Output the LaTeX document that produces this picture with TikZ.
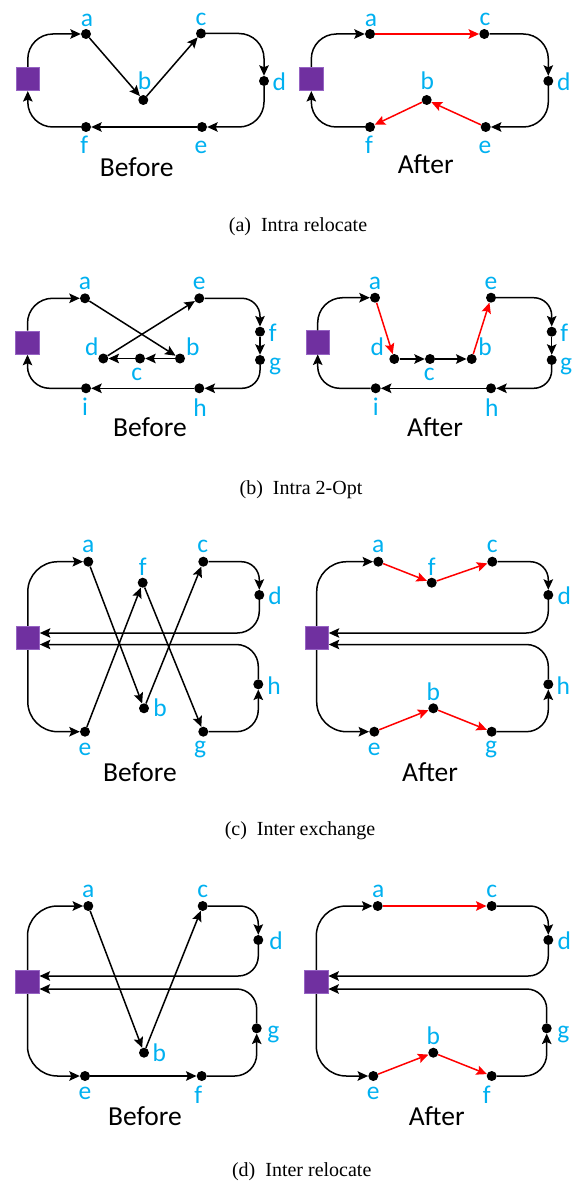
\documentclass[tikz,border=0pt]{standalone}
\usepackage{fontspec}
\setmainfont{Liberation Serif}
\newfontfamily\calfont{Carlito}
\usetikzlibrary{arrows.meta}
\definecolor{dpurple}{RGB}{112,48,160}
\definecolor{dborder}{RGB}{150,100,195}
\definecolor{lblue}{RGB}{0,176,240}
\definecolor{ered}{RGB}{255,0,0}
\tikzset{
  dot/.style={circle,fill=black,minimum size=10pt,inner sep=0pt},
  depot/.style={rectangle,fill=dpurple,draw=dborder,line width=0.6pt,minimum size=23.5pt,inner sep=0pt},
  lbl/.style={anchor=base,inner sep=0pt,text=lblue,font=\calfont\fontsize{25.5}{29}\selectfont},
  phasetxt/.style={anchor=base,inner sep=0pt,font=\calfont\fontsize{27.5}{31}\selectfont},
  capt/.style={anchor=base,inner sep=0pt,font=\fontsize{20}{24}\selectfont},
  conn/.style={line width=1.5pt,-{Stealth[length=10.5pt,width=9.5pt,inset=2pt]}},
  rconn/.style={conn,draw=ered},
  rc/.style={rounded corners=#1},
}
\begin{document}
\begin{tikzpicture}[x=1pt,y=-1pt]
\useasboundingbox (0,0) rectangle (575,1185);
% ================= (a) Before
\node[depot] (A1dep) at (27.8,79) {};
\node[dot] (A1a) at (86,34) {};
\node[dot] (A1b) at (143.3,100) {};
\node[dot] (A1c) at (201,33.5) {};
\node[dot] (A1d) at (264,81) {};
\node[dot] (A1e) at (202,127) {};
\node[dot] (A1f) at (86,127) {};
\node[lbl] (A1la) at (87,26.7) {a};
\node[lbl] (A1lb) at (144.5,89.3) {b};
\node[lbl] (A1lc) at (201,26) {c};
\node[lbl] (A1ld) at (279.3,90.7) {d};
\node[lbl] (A1le) at (201,153.3) {e};
\node[lbl] (A1lf) at (84.3,154) {f};
\node[phasetxt] (A1t) at (136.7,176.7) {Before};
\draw[conn,rc=25pt] (A1dep.north) |- (A1a);
\draw[conn] (A1a) -- (A1b);
\draw[conn] (A1b) -- (A1c);
\draw[conn,rc=25pt] (A1c) -| (A1d);
\draw[conn,rc=25pt] (A1d) |- (A1e);
\draw[conn] (A1e) -- (A1f);
\draw[conn,rc=25pt] (A1f) -| (A1dep);
% ================= (a) After
\node[depot] (A2dep) at (311.3,79) {};
\node[dot] (A2a) at (370,34) {};
\node[dot] (A2b) at (426.7,100) {};
\node[dot] (A2c) at (484.3,34) {};
\node[dot] (A2d) at (548.3,81) {};
\node[dot] (A2e) at (485.7,127) {};
\node[dot] (A2f) at (370,127) {};
\node[lbl] (A2la) at (371,26.7) {a};
\node[lbl] (A2lb) at (427.3,89.3) {b};
\node[lbl] (A2lc) at (485,26) {c};
\node[lbl] (A2ld) at (563.7,90.7) {d};
\node[lbl] (A2le) at (485,153.3) {e};
\node[lbl] (A2lf) at (369,154) {f};
\node[phasetxt] (A2t) at (425.7,173.5) {After};
\draw[conn,rc=25pt] (A2dep.north) |- (A2a);
\draw[rconn] (A2a) -- (A2c);
\draw[conn,rc=25pt] (A2c) -| (A2d);
\draw[conn,rc=25pt] (A2d) |- (A2e);
\draw[rconn] (A2e) -- (A2b);
\draw[rconn] (A2b) -- (A2f);
\draw[conn,rc=25pt] (A2f) -| (A2dep);
\node[capt] (capA) at (298,231.5) {(a)\ \ Intra relocate};
% ================= (b) Before
\node[depot] (B1dep) at (27.5,342.7) {};
\node[dot] (B1a) at (85,298.3) {};
\node[dot] (B1b) at (180,358.5) {};
\node[dot] (B1c) at (140,358.5) {};
\node[dot] (B1d) at (103.3,358.5) {};
\node[dot] (B1e) at (199.3,298.3) {};
\node[dot] (B1f) at (260,331.7) {};
\node[dot] (B1g) at (260,360) {};
\node[dot] (B1h) at (199.3,388.3) {};
\node[dot] (B1i) at (86,388.3) {};
\node[lbl] (B1la) at (85,289.3) {a};
\node[lbl] (B1lb) at (192.7,355) {b};
\node[lbl] (B1lc) at (136.7,380) {c};
\node[lbl] (B1ld) at (91.7,355) {d};
\node[lbl] (B1le) at (199.3,289.3) {e};
\node[lbl] (B1lf) at (272.7,341) {f};
\node[lbl] (B1lg) at (275,370) {g};
\node[lbl] (B1lh) at (200,416.7) {h};
\node[lbl] (B1li) at (85,415) {i};
\node[phasetxt] (B1t) at (150,436.7) {Before};
\draw[conn,rc=25pt] (B1dep.north) |- (B1a);
\draw[conn] (B1a) -- (B1b);
\draw[conn] (B1b) -- (B1c);
\draw[conn] (B1c) -- (B1d);
\draw[conn] (B1d) -- (B1e);
\draw[conn,rc=18pt] (B1e) -| (B1f);
\draw[conn] (B1f) -- (B1g);
\draw[conn,rc=18pt] (B1g) |- (B1h);
\draw[conn] (B1h) -- (B1i);
\draw[conn,rc=22pt] (B1i) -| (B1dep);
% ================= (b) After
\node[depot] (B2dep) at (317.7,342.4) {};
\node[dot] (B2a) at (375,297.7) {};
\node[dot] (B2b) at (471.7,359) {};
\node[dot] (B2c) at (430,359) {};
\node[dot] (B2d) at (394.3,359) {};
\node[dot] (B2e) at (491,297.7) {};
\node[dot] (B2f) at (551.7,331.7) {};
\node[dot] (B2g) at (551.7,360) {};
\node[dot] (B2h) at (491,388.3) {};
\node[dot] (B2i) at (375.7,388.3) {};
\node[lbl] (B2la) at (375,289.3) {a};
\node[lbl] (B2lb) at (485,355) {b};
\node[lbl] (B2lc) at (429.3,380) {c};
\node[lbl] (B2ld) at (377.3,355) {d};
\node[lbl] (B2le) at (491,289.3) {e};
\node[lbl] (B2lf) at (564.3,341) {f};
\node[lbl] (B2lg) at (566,370) {g};
\node[lbl] (B2lh) at (491.7,416.7) {h};
\node[lbl] (B2li) at (375.7,415) {i};
\node[phasetxt] (B2t) at (435,436) {After};
\draw[conn,rc=25pt] (B2dep.north) |- (B2a);
\draw[rconn] (B2a) -- (B2d);
\draw[conn] (B2d) -- (B2c);
\draw[conn] (B2c) -- (B2b);
\draw[rconn] (B2b) -- (B2e);
\draw[conn,rc=18pt] (B2e) -| (B2f);
\draw[conn] (B2f) -- (B2g);
\draw[conn,rc=18pt] (B2g) |- (B2h);
\draw[conn] (B2h) -- (B2i);
\draw[conn,rc=22pt] (B2i) -| (B2dep);
\node[capt] (capB) at (301,494) {(b)\ \ Intra 2-Opt};
% ================= (c) Before
\node[depot] (C1dep) at (27.8,638) {};
\node[dot] (C1a) at (88.3,561.7) {};
\node[dot] (C1b) at (144,708.3) {};
\node[dot] (C1c) at (203.3,561.7) {};
\node[dot] (C1d) at (259.3,595) {};
\node[dot] (C1e) at (85,731.7) {};
\node[dot] (C1f) at (142.7,582.7) {};
\node[dot] (C1g) at (203.3,731.7) {};
\node[dot] (C1h) at (258.3,684.3) {};
\node[lbl] (C1la) at (88.3,552.7) {a};
\node[lbl] (C1lb) at (160,716.7) {b};
\node[lbl] (C1lc) at (202.7,552.7) {c};
\node[lbl] (C1ld) at (275,604) {d};
\node[lbl] (C1le) at (85,755) {e};
\node[lbl] (C1lf) at (142.7,575) {f};
\node[lbl] (C1lg) at (200,753.3) {g};
\node[lbl] (C1lh) at (274,694) {h};
\node[phasetxt] (C1t) at (140,781.7) {Before};
\draw[conn,rc=30pt] (C1dep.north) |- (C1a);
\draw[conn] (C1a) -- (C1b);
\draw[conn] (C1b) -- (C1c);
\draw[conn,rc=18pt] (C1c) -| (C1d);
\draw[conn,rc=22pt] (C1d) |- ([yshift=5pt]C1dep.east);
\draw[conn,rc=30pt] (C1dep.south) |- (C1e);
\draw[conn] (C1e) -- (C1f);
\draw[conn] (C1f) -- (C1g);
\draw[conn,rc=22pt] (C1g) -| (C1h);
\draw[conn,rc=22pt] (C1h) |- ([yshift=-6.5pt]C1dep.east);
% ================= (c) After
\node[depot] (C2dep) at (316.7,638) {};
\node[dot] (C2a) at (378.3,561.7) {};
\node[dot] (C2b) at (433.3,708.3) {};
\node[dot] (C2c) at (492.3,561.7) {};
\node[dot] (C2d) at (548.3,595) {};
\node[dot] (C2e) at (374.3,731.7) {};
\node[dot] (C2f) at (431.7,582.7) {};
\node[dot] (C2g) at (491.7,731.7) {};
\node[dot] (C2h) at (548.3,684.3) {};
\node[lbl] (C2la) at (378.3,552.7) {a};
\node[lbl] (C2lb) at (433.3,700) {b};
\node[lbl] (C2lc) at (492.3,552.7) {c};
\node[lbl] (C2ld) at (564.3,604) {d};
\node[lbl] (C2le) at (374.3,755) {e};
\node[lbl] (C2lf) at (431.7,575) {f};
\node[lbl] (C2lg) at (491,753.3) {g};
\node[lbl] (C2lh) at (563.3,694) {h};
\node[phasetxt] (C2t) at (430,781.7) {After};
\draw[conn,rc=30pt] (C2dep.north) |- (C2a);
\draw[rconn] (C2a) -- (C2f);
\draw[rconn] (C2f) -- (C2c);
\draw[conn,rc=18pt] (C2c) -| (C2d);
\draw[conn,rc=22pt] (C2d) |- ([yshift=5pt]C2dep.east);
\draw[conn,rc=30pt] (C2dep.south) |- (C2e);
\draw[rconn] (C2e) -- (C2b);
\draw[rconn] (C2b) -- (C2g);
\draw[conn,rc=22pt] (C2g) -| (C2h);
\draw[conn,rc=22pt] (C2h) |- ([yshift=-6.5pt]C2dep.east);
\node[capt] (capC) at (300,835) {(c)\ \ Inter exchange};
% ================= (d) Before
\node[depot] (D1dep) at (27.5,982) {};
\node[dot] (D1a) at (88.3,906) {};
\node[dot] (D1b) at (144,1052.7) {};
\node[dot] (D1c) at (202.7,906) {};
\node[dot] (D1d) at (258.3,940) {};
\node[dot] (D1e) at (85,1076) {};
\node[dot] (D1f) at (201.7,1076) {};
\node[dot] (D1g) at (256.7,1028.3) {};
\node[lbl] (D1la) at (88.3,897.3) {a};
\node[lbl] (D1lb) at (159.3,1061.7) {b};
\node[lbl] (D1lc) at (202.7,897.3) {c};
\node[lbl] (D1ld) at (276,949.3) {d};
\node[lbl] (D1le) at (85,1099.3) {e};
\node[lbl] (D1lf) at (198.3,1103.3) {f};
\node[lbl] (D1lg) at (273.3,1038.3) {g};
\node[phasetxt] (D1t) at (145,1125) {Before};
\draw[conn,rc=30pt] (D1dep.north) |- (D1a);
\draw[conn] (D1a) -- (D1b);
\draw[conn] (D1b) -- (D1c);
\draw[conn,rc=18pt] (D1c) -| (D1d);
\draw[conn,rc=20pt] (D1d) |- ([yshift=6pt]D1dep.east);
\draw[conn,rc=30pt] (D1dep.south) |- (D1e);
\draw[conn] (D1e) -- (D1f);
\draw[conn,rc=22pt] (D1f) -| (D1g);
\draw[conn,rc=20pt] (D1g) |- ([yshift=-7pt]D1dep.east);
% ================= (d) After
\node[depot] (D2dep) at (316.3,982) {};
\node[dot] (D2a) at (377.7,906) {};
\node[dot] (D2b) at (433.3,1052.7) {};
\node[dot] (D2c) at (491.7,906) {};
\node[dot] (D2d) at (548.3,940) {};
\node[dot] (D2e) at (373.3,1076) {};
\node[dot] (D2f) at (491.7,1076) {};
\node[dot] (D2g) at (546.7,1028.3) {};
\node[lbl] (D2la) at (378.3,897.3) {a};
\node[lbl] (D2lb) at (433.3,1044.3) {b};
\node[lbl] (D2lc) at (491.7,897.3) {c};
\node[lbl] (D2ld) at (564.3,949.3) {d};
\node[lbl] (D2le) at (373.3,1099.3) {e};
\node[lbl] (D2lf) at (486.7,1103.3) {f};
\node[lbl] (D2lg) at (563.3,1038.3) {g};
\node[phasetxt] (D2t) at (436.7,1125) {After};
\draw[conn,rc=30pt] (D2dep.north) |- (D2a);
\draw[rconn] (D2a) -- (D2c);
\draw[conn,rc=18pt] (D2c) -| (D2d);
\draw[conn,rc=20pt] (D2d) |- ([yshift=6pt]D2dep.east);
\draw[conn,rc=30pt] (D2dep.south) |- (D2e);
\draw[rconn] (D2e) -- (D2b);
\draw[rconn] (D2b) -- (D2f);
\draw[conn,rc=22pt] (D2f) -| (D2g);
\draw[conn,rc=20pt] (D2g) |- ([yshift=-7pt]D2dep.east);
\node[capt] (capD) at (301.7,1176) {(d)\ \ Inter relocate};
\end{tikzpicture}
\end{document}
